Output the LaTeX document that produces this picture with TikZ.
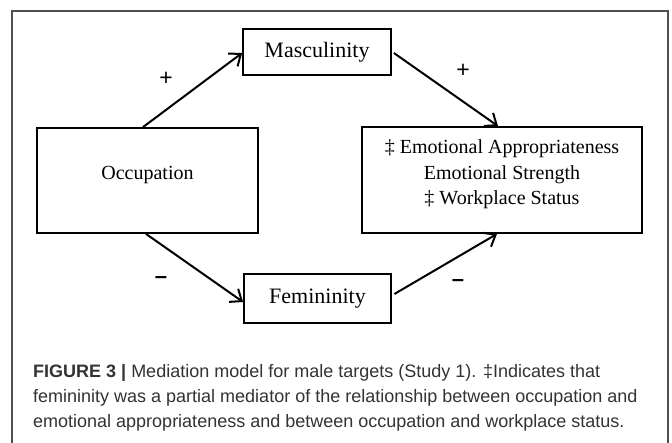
\documentclass[tikz,border=0pt]{standalone}
\usepackage{fontspec}
\setmainfont{Liberation Serif}
\newfontfamily\capfont{Liberation Sans}
\usetikzlibrary{arrows.meta}
\definecolor{capgray}{HTML}{333333}
\definecolor{framegray}{HTML}{505050}
\begin{document}
\begin{tikzpicture}[x=1pt,y=-1pt,
  box/.style={draw=black,line width=1.8pt,inner sep=0pt},
  boxtext/.style={inner sep=0pt,align=center,font=\fontsize{20}{25.5}\selectfont},
  link/.style={line width=2pt,-{Straight Barb[length=10pt,width=16pt,line width=2pt]}},
  sign/.style={anchor=base,inner sep=0pt,font=\capfont\fontsize{23}{23}\selectfont},
  captext/.style={anchor=base west,inner sep=0pt,font=\capfont\fontsize{18}{25}\selectfont,text=capgray}]
\useasboundingbox (0,0) rectangle (672,442);
\fill[white] (0,0) rectangle (672,442);
\draw[framegray,line width=1.3pt] (12,460) -- (12,11) -- (668,11) -- (668,460);
% boxes
\node[box,minimum width=221pt,minimum height=105pt] (occ) at (147.5,180.5) {};
\node[boxtext] (occtext) at (147.5,175) {Occupation};
\node[box,minimum width=148pt,minimum height=46pt,font=\fontsize{22}{25}\selectfont] (masc) at (317,52) {Masculinity};
\node[box,minimum width=147pt,minimum height=49pt,font=\fontsize{22}{25}\selectfont] (fem) at (317.5,298.5) {Femininity};
\node[box,minimum width=280pt,minimum height=106pt] (out) at (502,180) {};
\node[boxtext] (outtext) at (502,174.5) {‡ Emotional Appropriateness\\Emotional Strength\\‡ Workplace Status};
% connectors
\draw[link] ([xshift=-4.5pt]occ.north) -- ([yshift=-1pt]masc.west);
\draw[link] ([xshift=2pt,yshift=-1pt]masc.east) -- ([xshift=-4pt]out.north);
\draw[link] ([xshift=-1.5pt]occ.south) -- ([yshift=-3.5pt]fem.west);
\draw[link] ([xshift=2.5pt,yshift=4.5pt]fem.east) -- ([xshift=-5pt]out.south);
% signs
\node[sign] (s1) at (166,85) {+};
\node[sign] (s2) at (463,77) {+};
\node[sign,font=\capfont\bfseries\fontsize{22}{22}\selectfont] (s3) at (161,283) {–};
\node[sign,font=\capfont\bfseries\fontsize{22}{22}\selectfont] (s4) at (458,286) {–};
% caption
\node[captext] (cap1) at (33,377) {\textbf{FIGURE 3 |} Mediation model for male targets (Study 1). ‡Indicates that};
\node[captext] (cap2) at (33,402) {femininity was a partial mediator of the relationship between occupation and};
\node[captext] (cap3) at (33,427) {emotional appropriateness and between occupation and workplace status.};
\end{tikzpicture}
\end{document}
